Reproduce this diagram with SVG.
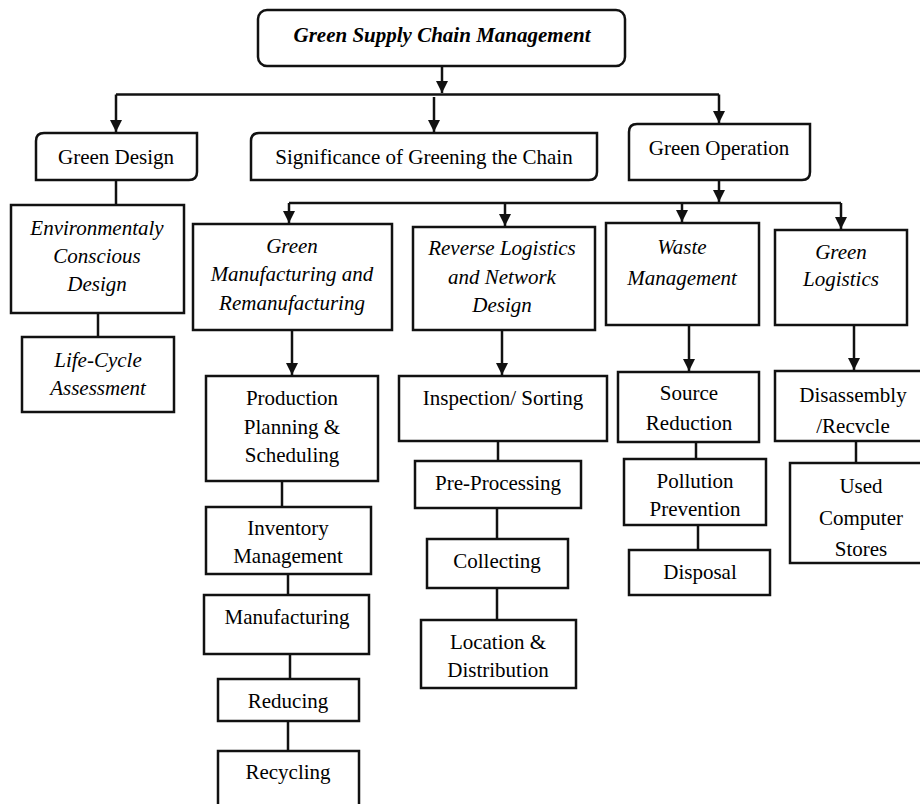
<svg xmlns="http://www.w3.org/2000/svg" width="920" height="804" viewBox="0 0 920 804">
<style>
.b{fill:#fff;stroke:#111;stroke-width:2.5}
.c{fill:none;stroke:#111;stroke-width:2.5}
</style>
<defs>
<marker id="ah" markerUnits="userSpaceOnUse" markerWidth="13" markerHeight="12" refX="12" refY="6" orient="auto">
<path d="M0,0 L12,6 L0,12 z" fill="#111"/>
</marker>
</defs>
<rect width="920" height="804" fill="#fff"/>
<g id="connectors">
<path class="c" d="M442,66 V93" marker-end="url(#ah)"/>
<path class="c" d="M116,94.5 H719"/>
<path class="c" d="M116,94.5 V132" marker-end="url(#ah)"/>
<path class="c" d="M434,97 V132" marker-end="url(#ah)"/>
<path class="c" d="M719,94.5 V123" marker-end="url(#ah)"/>
<path class="c" d="M116,180 V205"/>
<path class="c" d="M98,313 V337"/>
<path class="c" d="M719,180 V202" marker-end="url(#ah)"/>
<path class="c" d="M289,203 H841"/>
<path class="c" d="M289,203 V223" marker-end="url(#ah)"/>
<path class="c" d="M505,203 V226" marker-end="url(#ah)"/>
<path class="c" d="M682,203 V222" marker-end="url(#ah)"/>
<path class="c" d="M841,203 V229" marker-end="url(#ah)"/>
<path class="c" d="M292,330 V375" marker-end="url(#ah)"/>
<path class="c" d="M502,330 V375" marker-end="url(#ah)"/>
<path class="c" d="M689,325 V371" marker-end="url(#ah)"/>
<path class="c" d="M854,325 V370" marker-end="url(#ah)"/>
<path class="c" d="M282,481 V507"/>
<path class="c" d="M288,574 V595"/>
<path class="c" d="M290,654 V679"/>
<path class="c" d="M288,721 V751"/>
<path class="c" d="M498,441 V461"/>
<path class="c" d="M497,508 V539"/>
<path class="c" d="M497,588 V620"/>
<path class="c" d="M696,442 V459"/>
<path class="c" d="M698,525 V550"/>
<path class="c" d="M856,441 V463"/>
</g>
<g id="gscm">
<rect class="b" x="258" y="10" width="367" height="56" rx="9"/>
<text x="442" y="42" font-family="Liberation Serif" font-size="21" font-style="italic" font-weight="bold" text-anchor="middle">Green Supply Chain Management</text>
</g>
<g id="green-design">
<path class="b" d="M44,133 H197 V172 Q197,180 189,180 H36 V141 Q36,133 44,133 Z"/>
<text x="116" y="164" font-family="Liberation Serif" font-size="21" text-anchor="middle">Green Design</text>
</g>
<g id="significance">
<path class="b" d="M259,133 H597 V172 Q597,180 589,180 H251 V141 Q251,133 259,133 Z"/>
<text x="424" y="164" font-family="Liberation Serif" font-size="21" text-anchor="middle">Significance of Greening the Chain</text>
</g>
<g id="green-operation">
<path class="b" d="M637,124 H810 V172 Q810,180 802,180 H629 V132 Q629,124 637,124 Z"/>
<text x="719" y="155" font-family="Liberation Serif" font-size="21" text-anchor="middle">Green Operation</text>
</g>
<g id="ecd">
<rect class="b" x="11" y="205" width="173" height="108"/>
<text x="97" y="235" font-family="Liberation Serif" font-size="21" font-style="italic" text-anchor="middle">Environmentaly</text>
<text x="97" y="263" font-family="Liberation Serif" font-size="21" font-style="italic" text-anchor="middle">Conscious</text>
<text x="97" y="291" font-family="Liberation Serif" font-size="21" font-style="italic" text-anchor="middle">Design</text>
</g>
<g id="lca">
<rect class="b" x="22" y="337" width="152" height="75"/>
<text x="98" y="367" font-family="Liberation Serif" font-size="21" font-style="italic" text-anchor="middle">Life-Cycle</text>
<text x="98" y="395" font-family="Liberation Serif" font-size="21" font-style="italic" text-anchor="middle">Assessment</text>
</g>
<g id="gmr">
<rect class="b" x="193" y="224" width="199" height="106"/>
<text x="292" y="253" font-family="Liberation Serif" font-size="21" font-style="italic" text-anchor="middle">Green</text>
<text x="292" y="281" font-family="Liberation Serif" font-size="21" font-style="italic" text-anchor="middle">Manufacturing and</text>
<text x="292" y="310" font-family="Liberation Serif" font-size="21" font-style="italic" text-anchor="middle">Remanufacturing</text>
</g>
<g id="rlnd">
<rect class="b" x="413" y="227" width="182" height="103"/>
<text x="502" y="255" font-family="Liberation Serif" font-size="21" font-style="italic" text-anchor="middle">Reverse Logistics</text>
<text x="502" y="284" font-family="Liberation Serif" font-size="21" font-style="italic" text-anchor="middle">and Network</text>
<text x="502" y="312" font-family="Liberation Serif" font-size="21" font-style="italic" text-anchor="middle">Design</text>
</g>
<g id="waste">
<rect class="b" x="606" y="223" width="153" height="102"/>
<text x="682" y="254" font-family="Liberation Serif" font-size="21" font-style="italic" text-anchor="middle">Waste</text>
<text x="682" y="285" font-family="Liberation Serif" font-size="21" font-style="italic" text-anchor="middle">Management</text>
</g>
<g id="glog">
<rect class="b" x="775" y="230" width="132" height="95"/>
<text x="841" y="259" font-family="Liberation Serif" font-size="21" font-style="italic" text-anchor="middle">Green</text>
<text x="841" y="286" font-family="Liberation Serif" font-size="21" font-style="italic" text-anchor="middle">Logistics</text>
</g>
<g id="pps">
<rect class="b" x="206" y="376" width="172" height="105"/>
<text x="292" y="405" font-family="Liberation Serif" font-size="21" text-anchor="middle">Production</text>
<text x="292" y="434" font-family="Liberation Serif" font-size="21" text-anchor="middle">Planning &amp;</text>
<text x="292" y="462" font-family="Liberation Serif" font-size="21" text-anchor="middle">Scheduling</text>
</g>
<g id="inventory">
<rect class="b" x="206" y="507" width="165" height="67"/>
<text x="288" y="535" font-family="Liberation Serif" font-size="21" text-anchor="middle">Inventory</text>
<text x="288" y="563" font-family="Liberation Serif" font-size="21" text-anchor="middle">Management</text>
</g>
<g id="manufacturing">
<rect class="b" x="204" y="595" width="165" height="59"/>
<text x="287" y="624" font-family="Liberation Serif" font-size="21" text-anchor="middle">Manufacturing</text>
</g>
<g id="reducing">
<rect class="b" x="218" y="679" width="141" height="42"/>
<text x="288" y="708" font-family="Liberation Serif" font-size="21" text-anchor="middle">Reducing</text>
</g>
<g id="recycling">
<rect class="b" x="218" y="751" width="141" height="70"/>
<text x="288" y="779" font-family="Liberation Serif" font-size="21" text-anchor="middle">Recycling</text>
</g>
<g id="inspection">
<rect class="b" x="399" y="376" width="208" height="65"/>
<text x="503" y="405" font-family="Liberation Serif" font-size="21" text-anchor="middle">Inspection/ Sorting</text>
</g>
<g id="preprocessing">
<rect class="b" x="415" y="461" width="166" height="47"/>
<text x="498" y="490" font-family="Liberation Serif" font-size="21" text-anchor="middle">Pre-Processing</text>
</g>
<g id="collecting">
<rect class="b" x="427" y="539" width="141" height="49"/>
<text x="497" y="568" font-family="Liberation Serif" font-size="21" text-anchor="middle">Collecting</text>
</g>
<g id="location">
<rect class="b" x="421" y="620" width="155" height="68"/>
<text x="498" y="649" font-family="Liberation Serif" font-size="21" text-anchor="middle">Location &amp;</text>
<text x="498" y="677" font-family="Liberation Serif" font-size="21" text-anchor="middle">Distribution</text>
</g>
<g id="source">
<rect class="b" x="618" y="372" width="141" height="70"/>
<text x="689" y="400" font-family="Liberation Serif" font-size="21" text-anchor="middle">Source</text>
<text x="689" y="430" font-family="Liberation Serif" font-size="21" text-anchor="middle">Reduction</text>
</g>
<g id="pollution">
<rect class="b" x="624" y="459" width="142" height="66"/>
<text x="695" y="488" font-family="Liberation Serif" font-size="21" text-anchor="middle">Pollution</text>
<text x="695" y="516" font-family="Liberation Serif" font-size="21" text-anchor="middle">Prevention</text>
</g>
<g id="disposal">
<rect class="b" x="629" y="550" width="141" height="45"/>
<text x="700" y="579" font-family="Liberation Serif" font-size="21" text-anchor="middle">Disposal</text>
</g>
<g id="disassembly">
<rect class="b" x="775" y="371" width="150" height="70"/>
<text x="853" y="402" font-family="Liberation Serif" font-size="21" text-anchor="middle">Disassembly</text>
<text x="853" y="433" font-family="Liberation Serif" font-size="21" text-anchor="middle">/Recvcle</text>
</g>
<g id="used">
<rect class="b" x="790" y="463" width="140" height="100"/>
<text x="861" y="493" font-family="Liberation Serif" font-size="21" text-anchor="middle">Used</text>
<text x="861" y="525" font-family="Liberation Serif" font-size="21" text-anchor="middle">Computer</text>
<text x="861" y="556" font-family="Liberation Serif" font-size="21" text-anchor="middle">Stores</text>
</g>
</svg>
